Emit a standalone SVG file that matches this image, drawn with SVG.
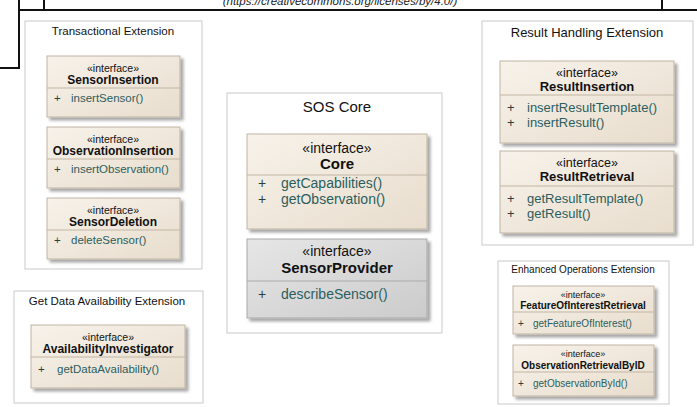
<svg xmlns="http://www.w3.org/2000/svg" width="697" height="407" viewBox="0 0 697 407">
<defs>
<linearGradient id="beige" x1="0" y1="0" x2="1" y2="1">
<stop offset="0" stop-color="#f7f2ea"/>
<stop offset="1" stop-color="#e8ddcd"/>
</linearGradient>
<linearGradient id="gray" x1="0" y1="0" x2="1" y2="1">
<stop offset="0" stop-color="#e6e6e6"/>
<stop offset="1" stop-color="#cbcbcb"/>
</linearGradient>
<filter id="shadow" x="-10%" y="-10%" width="130%" height="130%">
<feGaussianBlur in="SourceAlpha" stdDeviation="1.5"/>
<feOffset dx="3" dy="3" result="b"/>
<feComponentTransfer><feFuncA type="linear" slope="0.35"/></feComponentTransfer>
<feMerge><feMergeNode/><feMergeNode in="SourceGraphic"/></feMerge>
</filter>
<style>
.frame{fill:none;stroke:#111;stroke-width:2}
.pkg{fill:#fff;stroke:#c9c9c9;stroke-width:1}
.pt{font-family:"Liberation Sans",Arial,sans-serif;fill:#111;text-anchor:middle}
.box{fill:url(#beige);stroke:#bfb4a4;stroke-width:1;filter:url(#shadow)}
.gbox{fill:url(#gray);stroke:#a8a8a8;stroke-width:1;filter:url(#shadow)}
.div{stroke:#c2b6a4;stroke-width:1}
.gdiv{stroke:#aaaaaa;stroke-width:1}
.st{font-family:"Liberation Sans",Arial,sans-serif;fill:#111;text-anchor:middle}
.nm{font-family:"Liberation Sans",Arial,sans-serif;fill:#111;text-anchor:middle;font-weight:bold}
.pl{font-family:"Liberation Sans",Arial,sans-serif;fill:#2a4040}
.op{font-family:"Liberation Sans",Arial,sans-serif;fill:#2c5e5e}
</style>
</defs>
<rect width="697" height="407" fill="#fff"/>
<g id="frame">
<line class="frame" x1="19" y1="0" x2="19" y2="68"/>
<line class="frame" x1="0" y1="68" x2="20" y2="68"/>
<line class="frame" x1="44" y1="0" x2="44" y2="10"/>
<line class="frame" x1="18" y1="10" x2="697" y2="10"/>
<line class="frame" x1="662" y1="0" x2="662" y2="10"/>
<text x="340" y="5" font-family="Liberation Sans, Arial, sans-serif" font-size="11.5" font-style="italic" fill="#222" text-anchor="middle">(https://creativecommons.org/licenses/by/4.0/)</text>
</g>
<g id="connectors"></g>

<g id="pkg-transactional">
<rect class="pkg" x="25" y="21" width="177" height="248"/>
<text class="pt" x="113" y="35" font-size="11.5">Transactional Extension</text>
</g>
<g id="SensorInsertion">
<rect class="box" x="47" y="56" width="133" height="61"/>
<line class="div" x1="47" y1="88" x2="180" y2="88"/>
<text class="st" x="113" y="72" font-size="10.5">«interface»</text>
<text class="nm" x="113" y="84" font-size="12">SensorInsertion</text>
<text class="pl" x="54" y="102" font-size="11.5">+</text>
<text class="op" x="71" y="102" font-size="11.5">insertSensor()</text>
</g>
<g id="ObservationInsertion">
<rect class="box" x="47" y="127" width="133" height="61"/>
<line class="div" x1="47" y1="159" x2="180" y2="159"/>
<text class="st" x="113" y="143" font-size="10.5">«interface»</text>
<text class="nm" x="113" y="155" font-size="12">ObservationInsertion</text>
<text class="pl" x="54" y="173" font-size="11.5">+</text>
<text class="op" x="71" y="173" font-size="11.5">insertObservation()</text>
</g>
<g id="SensorDeletion">
<rect class="box" x="47" y="198" width="133" height="61"/>
<line class="div" x1="47" y1="230" x2="180" y2="230"/>
<text class="st" x="113" y="214" font-size="10.5">«interface»</text>
<text class="nm" x="113" y="226" font-size="12">SensorDeletion</text>
<text class="pl" x="54" y="244" font-size="11.5">+</text>
<text class="op" x="71" y="244" font-size="11.5">deleteSensor()</text>
</g>

<g id="pkg-core">
<rect class="pkg" x="227" y="93" width="215" height="240"/>
<text class="pt" x="337" y="112" font-size="15">SOS Core</text>
</g>
<g id="Core">
<rect class="box" x="247" y="134" width="180" height="95"/>
<line class="div" x1="247" y1="175" x2="427" y2="175"/>
<text class="st" x="337" y="153" font-size="14">«interface»</text>
<text class="nm" x="337" y="169" font-size="15">Core</text>
<text class="pl" x="258" y="188" font-size="14">+</text>
<text class="op" x="281" y="188" font-size="14">getCapabilities()</text>
<text class="pl" x="258" y="204" font-size="14">+</text>
<text class="op" x="281" y="204" font-size="14">getObservation()</text>
</g>
<g id="SensorProvider">
<rect class="gbox" x="247" y="239" width="180" height="79"/>
<line class="gdiv" x1="247" y1="281" x2="427" y2="281"/>
<text class="st" x="337" y="256" font-size="14">«interface»</text>
<text class="nm" x="337" y="273" font-size="15">SensorProvider</text>
<text class="pl" x="258" y="299" font-size="14">+</text>
<text class="op" x="281" y="299" font-size="14">describeSensor()</text>
</g>

<g id="pkg-result">
<rect class="pkg" x="482" y="21" width="211" height="224"/>
<text class="pt" x="587" y="37" font-size="13">Result Handling Extension</text>
</g>
<g id="ResultInsertion">
<rect class="box" x="500" y="61" width="174" height="82"/>
<line class="div" x1="500" y1="95" x2="674" y2="95"/>
<text class="st" x="587" y="77" font-size="12.5">«interface»</text>
<text class="nm" x="587" y="91" font-size="13">ResultInsertion</text>
<text class="pl" x="507" y="112" font-size="13">+</text>
<text class="op" x="527" y="112" font-size="13">insertResultTemplate()</text>
<text class="pl" x="507" y="127" font-size="13">+</text>
<text class="op" x="527" y="127" font-size="13">insertResult()</text>
</g>
<g id="ResultRetrieval">
<rect class="box" x="500" y="151" width="174" height="82"/>
<line class="div" x1="500" y1="186" x2="674" y2="186"/>
<text class="st" x="587" y="167" font-size="12.5">«interface»</text>
<text class="nm" x="587" y="181" font-size="13">ResultRetrieval</text>
<text class="pl" x="507" y="203" font-size="13">+</text>
<text class="op" x="527" y="203" font-size="13">getResultTemplate()</text>
<text class="pl" x="507" y="218" font-size="13">+</text>
<text class="op" x="527" y="218" font-size="13">getResult()</text>
</g>

<g id="pkg-gda">
<rect class="pkg" x="14" y="291" width="189" height="112"/>
<text class="pt" x="107" y="305" font-size="11.5">Get Data Availability Extension</text>
</g>
<g id="AvailabilityInvestigator">
<rect class="box" x="31" y="325" width="154" height="63"/>
<line class="div" x1="31" y1="357" x2="185" y2="357"/>
<text class="st" x="108" y="341" font-size="10.5">«interface»</text>
<text class="nm" x="108" y="353" font-size="12">AvailabilityInvestigator</text>
<text class="pl" x="38" y="373" font-size="11.5">+</text>
<text class="op" x="57" y="373" font-size="11.5">getDataAvailability()</text>
</g>

<g id="pkg-enhanced">
<rect class="pkg" x="498" y="261" width="171" height="143"/>
<text class="pt" x="583" y="273" font-size="10">Enhanced Operations Extension</text>
</g>
<g id="FeatureOfInterestRetrieval">
<rect class="box" x="513" y="286" width="141" height="48"/>
<line class="div" x1="513" y1="312" x2="654" y2="312"/>
<text class="st" x="583" y="298" font-size="9">«interface»</text>
<text class="nm" x="583" y="309" font-size="10">FeatureOfInterestRetrieval</text>
<text class="pl" x="518" y="327" font-size="10">+</text>
<text class="op" x="533" y="327" font-size="10">getFeatureOfInterest()</text>
</g>
<g id="ObservationRetrievalByID">
<rect class="box" x="513" y="345" width="141" height="51"/>
<line class="div" x1="513" y1="372" x2="654" y2="372"/>
<text class="st" x="583" y="357" font-size="9">«interface»</text>
<text class="nm" x="583" y="369" font-size="10">ObservationRetrievalByID</text>
<text class="pl" x="518" y="387" font-size="10">+</text>
<text class="op" x="533" y="387" font-size="10">getObservationById()</text>
</g>
</svg>
